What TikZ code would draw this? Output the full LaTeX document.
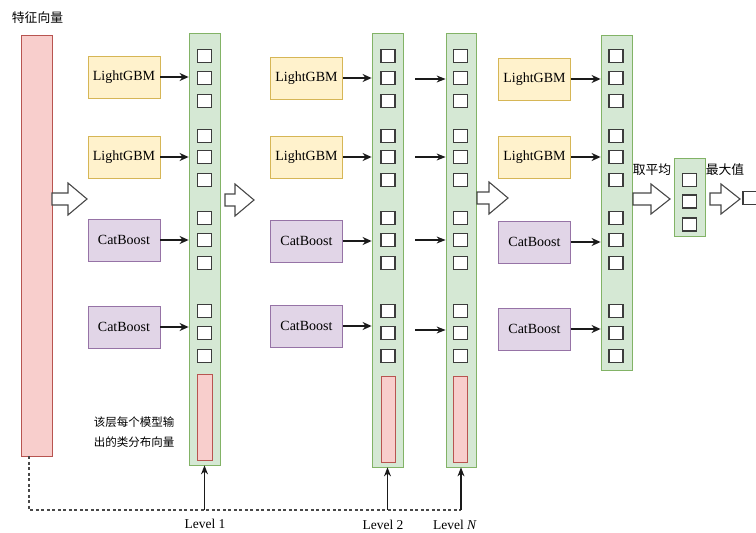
\documentclass[tikz,border=0pt]{standalone}
\usepackage{fontspec}
\setmainfont{Liberation Serif}
\newfontfamily\cjk{Noto Sans CJK SC}
\usetikzlibrary{arrows.meta}
\definecolor{gfill}{HTML}{D5E8D4}\definecolor{gdraw}{HTML}{82B366}
\definecolor{pfill}{HTML}{F8CECC}\definecolor{pdraw}{HTML}{B85450}
\definecolor{yfill}{HTML}{FFF2CC}\definecolor{ydraw}{HTML}{D6B656}
\definecolor{vfill}{HTML}{E1D5E7}\definecolor{vdraw}{HTML}{9673A6}
\definecolor{ink}{HTML}{1A1A1A}
\newcommand\myblockarrow[4]{% x, y, length, head half-height
  \draw[blockarr] (#1,#2-6) -- (#1+#3-19,#2-6) -- (#1+#3-19,#2-#4) -- (#1+#3,#2)
    -- (#1+#3-19,#2+#4) -- (#1+#3-19,#2+6) -- (#1,#2+6) -- cycle;}
\tikzset{
  colbox/.style={draw=gdraw, fill=gfill, line width=0.8pt, inner sep=0pt},
  pinkbox/.style={draw=pdraw, fill=pfill, line width=0.8pt, inner sep=0pt},
  sq/.style={draw=ink!85, fill=white, line width=1.3pt, minimum width=14pt, minimum height=13pt, inner sep=0pt},
  model/.style={line width=0.8pt, inner sep=0pt, minimum width=72pt, minimum height=42pt, font=\fontsize{14}{16}\selectfont},
  lgbm/.style={model, draw=ydraw, fill=yfill},
  cat/.style={model, draw=vdraw, fill=vfill},
  marr/.style={draw=ink, line width=1.4pt, -{Stealth[length=9pt,width=8pt]}},
  thinarr/.style={draw=ink, line width=1.2pt, -{Stealth[length=9pt,width=7pt]}},
  uparr/.style={draw=ink, line width=1.1pt, -{Stealth[length=9pt,width=7pt]}},
  blockarr/.style={draw=ink!80, fill=white, line width=1.1pt, line join=miter},
  cjklabel/.style={font=\cjk\fontsize{12.8}{15}\selectfont, inner sep=0pt},
  lvl/.style={font=\fontsize{13.5}{16}\selectfont, inner sep=0pt}
}
\begin{document}
\begin{tikzpicture}[x=1pt,y=-1pt]
\useasboundingbox (0,0) rectangle (756,533);
\clip (0,0) rectangle (756,533);

% feature vector
\node[cjklabel] (title) at (37.5,18) {特征向量};
\node[pinkbox, minimum width=31pt, minimum height=421pt] (feat) at (36.5,245.5) {};

% columns
\node[colbox, minimum width=31pt, minimum height=432pt] (c1) at (204.5,249) {};
\node[colbox, minimum width=31pt, minimum height=434pt] (c2) at (387.5,250) {};
\node[colbox, minimum width=30pt, minimum height=434pt] (cN) at (461,250) {};
\node[colbox, minimum width=31pt, minimum height=335pt] (c4) at (616.5,202.5) {};
\node[colbox, minimum width=31pt, minimum height=78pt] (c5) at (689.5,197) {};

\node[pinkbox, minimum width=15pt, minimum height=86pt] (p1) at (204.5,417) {};
\node[pinkbox, minimum width=14pt, minimum height=86pt] (p2) at (388,419) {};
\node[pinkbox, minimum width=14pt, minimum height=86pt] (pN) at (460.5,419) {};

% squares
\foreach \c/\x in {c1/204.5, c2/388, cN/460.5, c4/616}{
  \foreach \y [count=\i] in {56,78,101,136,157,180,218,240,263,311,333,356}{
    \node[sq] (\c-\i) at (\x,\y) {};
  }
}
\foreach \y [count=\i] in {180,201.5,224.5}{
  \node[sq] (c5-\i) at (689.5,\y) {};
}
\node[sq] (cut) at (750,198) {};

% models stage 1
\node[lgbm] (a1) at (124,77) {LightGBM};
\node[lgbm] (a2) at (124,157) {LightGBM};
\node[cat]  (a3) at (124,240) {CatBoost};
\node[cat]  (a4) at (124,327) {CatBoost};
% stage 2
\node[lgbm] (b1) at (306.5,78) {LightGBM};
\node[lgbm] (b2) at (306.5,157) {LightGBM};
\node[cat]  (b3) at (306.5,241) {CatBoost};
\node[cat]  (b4) at (306.5,326) {CatBoost};
% stage 3
\node[lgbm] (d1) at (534.5,79) {LightGBM};
\node[lgbm] (d2) at (534.5,157) {LightGBM};
\node[cat]  (d3) at (534.5,242) {CatBoost};
\node[cat]  (d4) at (534.5,329) {CatBoost};

\foreach \m in {a1,a2,a3,a4}{ \draw[marr] (\m.east) -- (\m.east -| c1.west); }
\foreach \m in {b1,b2,b3,b4}{ \draw[marr] (\m.east) -- (\m.east -| c2.west); }
\foreach \m in {d1,d2,d3,d4}{ \draw[marr] (\m.east) -- (\m.east -| c4.west); }

% col2 -> colN arrows
\foreach \y [count=\i] in {79,157,240,330}{
  \coordinate (t\i) at (415,\y);
  \draw[thinarr] (t\i) -- (t\i -| cN.west);
}

% block arrows
\myblockarrow{52}{199}{35}{16}
\myblockarrow{225}{200}{29}{16}
\myblockarrow{477}{198}{31}{16}
\myblockarrow{633}{199}{37}{15}
\myblockarrow{710}{199}{30}{15}

\node[cjklabel] (avg) at (652,170) {取平均};
\node[cjklabel] (mx) at (725,170) {最大值};

% explanation
\node[font=\cjk\fontsize{11.5}{20}\selectfont, align=left, inner sep=0pt] (expl) at (134,432) {该层每个模型输\\出的类分布向量};

% dashed feedback
\coordinate (ds) at ([xshift=-7.5pt]feat.south);
\coordinate (corner) at (ds |- 0,510);
\coordinate (dend) at (cN.south |- 0,510);
\draw[draw=ink!80, line width=1.1pt, dash pattern=on 3pt off 2.5pt] (ds) -- (corner) -- (dend);
\draw[uparr] (c1.south |- 0,510) -- (c1.south);
\draw[uparr] (c2.south |- 0,510) -- (c2.south);
\draw[uparr] (dend) -- (cN.south);

\node[lvl] (l1) at (205,524) {Level 1};
\node[lvl] (l2) at (383,525) {Level 2};
\node[lvl] (lN) at (455,525) {Level \textit{N}};
\end{tikzpicture}
\end{document}
